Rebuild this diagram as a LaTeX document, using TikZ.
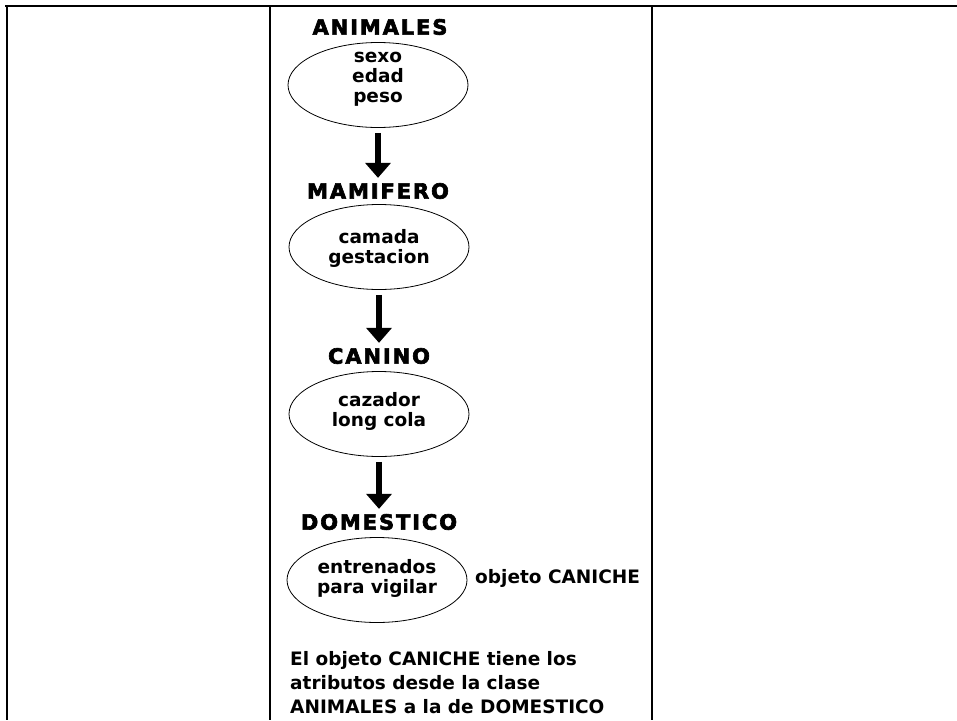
\documentclass[tikz,border=0pt]{standalone}
\usepackage{fontspec}
\setmainfont{DejaVu Sans}
\newfontfamily\classfont{DejaVu Sans}[FakeBold=3,LetterSpace=9]
\usetikzlibrary{arrows.meta,shapes.geometric}

\begin{document}
\begin{tikzpicture}[x=1pt,y=-1pt,
	clase/.style={inner sep=0pt,font=\classfont\bfseries\fontsize{21}{23}\selectfont},
	oval/.style={draw,ellipse,line width=0.8pt,minimum width=180pt,minimum height=85pt,inner sep=0pt},
	attr/.style={inner sep=0pt,align=center,font=\bfseries\fontsize{18.5}{20}\selectfont},
	nota/.style={inner sep=0pt,align=left,font=\bfseries\fontsize{18.5}{24}\selectfont},
	hereda/.style={line width=5.5pt,-{Triangle[width=25pt,length=15pt]},shorten <=5pt,shorten >=5pt}]
\useasboundingbox (0,0) rectangle (957,720);

% marco de la tabla
\draw[line width=2.5pt] (5,6) -- (957,6);
\draw[line width=2.5pt] (7,5) -- (7,720);
\draw[line width=1.2pt] (270,6) -- (270,720);
\draw[line width=1.5pt] (652,6) -- (652,720);

\path (380,27) node[clase] (animales) {ANIMALES}
		(378,85) node[oval] (e1) {}
		(378,79) node[attr] {sexo\\edad\\peso}
		(378,191) node[clase] (mamifero) {MAMIFERO}
		(379,247) node[oval] (e2) {}
		(379,248) node[attr] {camada\\gestacion}
		(379,356) node[clase] (canino) {CANINO}
		(379,414) node[oval] (e3) {}
		(379,411) node[attr] {cazador\\long cola}
		(379,522) node[clase] (domestico) {DOMESTICO}
		(377,580) node[oval] (e4) {}
		(377,578) node[attr] {entrenados\\para vigilar}
		(475,578) node[attr,anchor=west] (caniche) {objeto CANICHE}
		(290,683) node[nota,anchor=west] (nota) {El objeto CANICHE tiene los\\atributos desde la clase\\ANIMALES a la de DOMESTICO};

\draw[hereda] (e1.south) -- (mamifero.north);
\draw[hereda] (e2.south) -- (canino.north);
\draw[hereda] (e3.south) -- (domestico.north);
\end{tikzpicture}
\end{document}
